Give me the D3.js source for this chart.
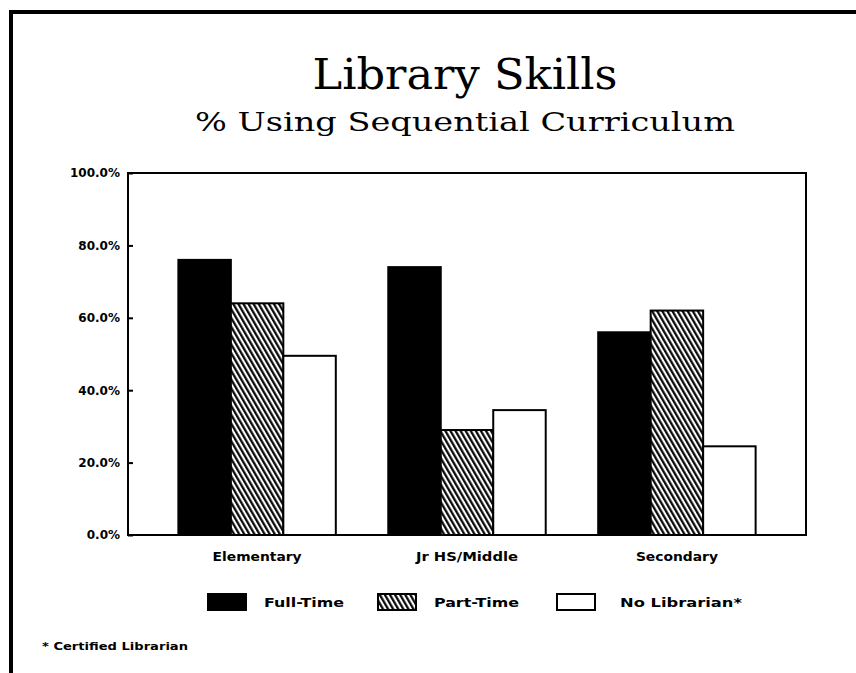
<!DOCTYPE html>
<html>
<head>
<meta charset="utf-8">
<script src="https://cdn.jsdelivr.net/npm/d3@7"></script>
<style>
  body { margin: 0; background: #fff; }
  svg { display: block; }
</style>
</head>
<body>
<div id="chart"></div>
<script>
const categories = ['Elementary', 'Jr HS/Middle', 'Secondary'];
const seriesNames = ['Full-Time', 'Part-Time', 'No Librarian*'];
const fullTime = [76, 74, 56];
const partTime = [64, 29, 62];
const noLibrarian = [49.5, 34.5, 24.5];
const yTicks = [0, 20, 40, 60, 80, 100];

const width = 856;
const height = 673;

const svg = d3.select('#chart')
    .append('svg')
    .attr('width', width)
    .attr('height', height);

// hatch for part-time bars
const defs = svg.append('defs');
defs.append('pattern')
    .attr('id', 'hatch')
    .attr('patternUnits', 'userSpaceOnUse')
    .attr('width', 4.4)
    .attr('height', 10)
    .attr('patternTransform', 'rotate(-30)')
    .call(p => {
        p.append('rect').attr('width', 4.4).attr('height', 10).attr('fill', '#fff');
        p.append('line').attr('x1', 1.2).attr('x2', 1.2).attr('y1', 0).attr('y2', 10)
            .attr('stroke', '#000').attr('stroke-width', 2.2);
    });

const fills = { 'Full-Time': '#000', 'Part-Time': 'url(#hatch)', 'No Librarian*': '#fff' };

// page border (top and left edges of the scanned sheet)
svg.append('path')
    .attr('d', `M11,${height} V12 H${width}`)
    .attr('fill', 'none')
    .attr('stroke', '#000')
    .attr('stroke-width', 4);

// titles
svg.append('text')
    .attr('x', 465)
    .attr('y', 89)
    .attr('text-anchor', 'middle')
    .attr('font-family', 'DejaVu Serif')
    .attr('font-size', 42)
    .attr('textLength', 305)
    .attr('lengthAdjust', 'spacingAndGlyphs')
    .text('Library Skills');

svg.append('text')
    .attr('x', 465)
    .attr('y', 131)
    .attr('text-anchor', 'middle')
    .attr('font-family', 'DejaVu Serif')
    .attr('font-size', 26)
    .attr('textLength', 540)
    .attr('lengthAdjust', 'spacingAndGlyphs')
    .text('% Using Sequential Curriculum');

const plot = { left: 128, right: 806, top: 173, bottom: 535 };

const x0 = d3.scaleBand()
    .domain(categories)
    .range([plot.left, plot.right])
    .paddingInner(0.25)
    .paddingOuter(0.24);

const x1 = d3.scaleBand()
    .domain(seriesNames)
    .range([0, x0.bandwidth()]);

const y = d3.scaleLinear()
    .domain([0, 100])
    .range([plot.bottom, plot.top]);

const rows = categories.map((c, i) => ({
    category: c,
    values: [
        { key: 'Full-Time', value: fullTime[i] },
        { key: 'Part-Time', value: partTime[i] },
        { key: 'No Librarian*', value: noLibrarian[i] }
    ]
}));

// bars
const groups = svg.selectAll('.group')
    .data(rows)
    .enter().append('g')
    .attr('class', 'group')
    .attr('transform', d => `translate(${x0(d.category)},0)`);

groups.selectAll('rect')
    .data(d => d.values)
    .enter().append('rect')
    .attr('x', d => x1(d.key))
    .attr('y', d => y(d.value))
    .attr('width', x1.bandwidth())
    .attr('height', d => y(0) - y(d.value))
    .attr('fill', d => fills[d.key])
    .attr('stroke', '#000')
    .attr('stroke-width', 2);

// plot frame
svg.append('rect')
    .attr('x', plot.left)
    .attr('y', plot.top)
    .attr('width', plot.right - plot.left)
    .attr('height', plot.bottom - plot.top)
    .attr('fill', 'none')
    .attr('stroke', '#000')
    .attr('stroke-width', 2);

// y axis
const yAxis = svg.append('g')
    .attr('transform', `translate(${plot.left},0)`)
    .call(d3.axisLeft(y)
        .tickValues(yTicks)
        .tickSize(-5)
        .tickPadding(8)
        .tickFormat(d => d.toFixed(1) + '%'));

yAxis.select('.domain').remove();
yAxis.selectAll('.tick line').attr('stroke', '#000').attr('stroke-width', 2);
yAxis.selectAll('.tick text')
    .attr('font-family', 'DejaVu Sans')
    .attr('font-weight', 'bold')
    .attr('font-size', 12)
    .attr('fill', '#000');

// category labels
const xAxis = svg.append('g')
    .attr('transform', `translate(0,${plot.bottom})`)
    .call(d3.axisBottom(x0).tickSize(0).tickPadding(17));

xAxis.select('.domain').remove();
const catWidths = { 'Elementary': 89, 'Jr HS/Middle': 102, 'Secondary': 82 };
xAxis.selectAll('.tick text')
    .attr('font-family', 'DejaVu Sans')
    .attr('font-weight', 'bold')
    .attr('font-size', 12)
    .attr('fill', '#000')
    .attr('textLength', d => catWidths[d])
    .attr('lengthAdjust', 'spacingAndGlyphs');

// legend
const legendX = [208, 378, 557];
const labelWidths = [80, 85, 122];
const legend = svg.selectAll('.legend')
    .data(seriesNames)
    .enter().append('g')
    .attr('class', 'legend')
    .attr('transform', (d, i) => `translate(${legendX[i]},594)`);

legend.append('rect')
    .attr('x', 0)
    .attr('y', 0)
    .attr('width', 38)
    .attr('height', 16)
    .attr('fill', d => fills[d])
    .attr('stroke', '#000')
    .attr('stroke-width', 2);

legend.append('text')
    .attr('x', (d, i) => i === 2 ? 63 : 56)
    .attr('y', 13)
    .attr('font-family', 'DejaVu Sans')
    .attr('font-weight', 'bold')
    .attr('font-size', 12)
    .attr('textLength', (d, i) => labelWidths[i])
    .attr('lengthAdjust', 'spacingAndGlyphs')
    .text(d => d);

// footnote
svg.append('text')
    .attr('x', 42)
    .attr('y', 650)
    .attr('font-family', 'DejaVu Sans')
    .attr('font-weight', 'bold')
    .attr('font-size', 10)
    .attr('textLength', 146)
    .attr('lengthAdjust', 'spacingAndGlyphs')
    .text('* Certified Librarian');
</script>
</body>
</html>
